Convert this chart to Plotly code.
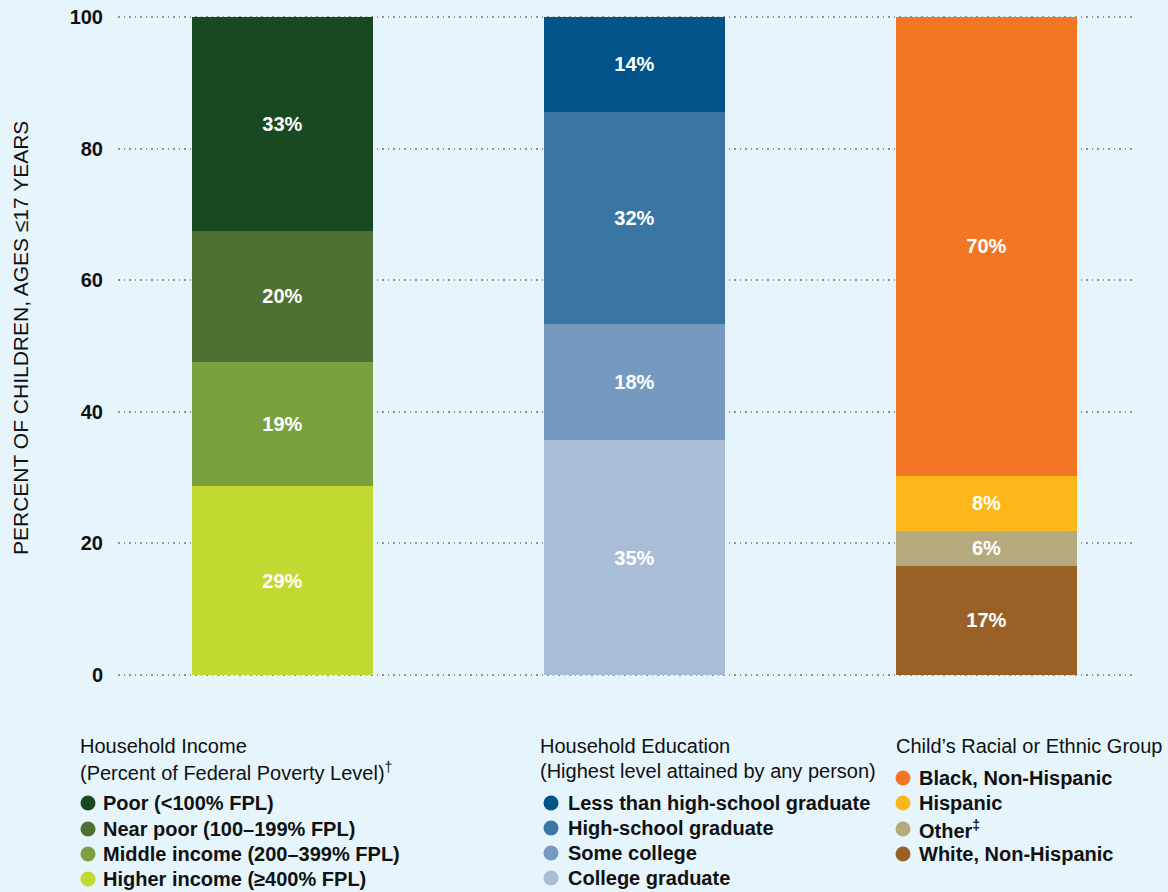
import plotly.graph_objects as go

# ---------------- data ----------------
groups = ["Household Income", "Household Education", "Child's Racial or Ethnic Group"]

income_labels = ["Higher income (≥400% FPL)", "Middle income (200–399% FPL)",
                 "Near poor (100–199% FPL)", "Poor (<100% FPL)"]
income_values = [28.7, 18.9, 19.9, 32.5]
income_text = ["29%", "19%", "20%", "33%"]
income_colors = ["#C2D931", "#79A140", "#4E7133", "#184A22"]

edu_labels = ["College graduate", "Some college", "High-school graduate",
              "Less than high-school graduate"]
edu_values = [35.7, 17.6, 32.3, 14.4]
edu_text = ["35%", "18%", "32%", "14%"]
edu_colors = ["#A9BDD7", "#7599BF", "#3A76A4", "#02538A"]

race_labels = ["White, Non-Hispanic", "Other<sup>‡</sup>", "Hispanic", "Black, Non-Hispanic"]
race_values = [16.6, 5.3, 8.4, 69.7]
race_text = ["17%", "6%", "8%", "70%"]
race_colors = ["#9A6127", "#B5AA7E", "#FDB71A", "#F37624"]

y_ticks = [0, 20, 40, 60, 80, 100]
y_title = "PERCENT OF CHILDREN, AGES ≤17 YEARS"

legend_titles = [
    ["Household Income", "(Percent of Federal Poverty Level)<sup>†</sup>"],
    ["Household Education", "(Highest level attained by any person)"],
    ["Child’s Racial or Ethnic Group"],
]

FONT = "Liberation Sans, Arial, Helvetica, sans-serif"
BG = "#E6F4FC"

W, H = 1168, 892
PAD = 0.3
L, R, T, B = 118, 34, 15, 215
PW, PH = W - L - R, H - T - B
Y0 = 675  # pixel of y=0
SCALE = PH / (100 + 2 * PAD)

fig = go.Figure()

series = [
    (income_labels, income_values, income_text, income_colors),
    (edu_labels, edu_values, edu_text, edu_colors),
    (race_labels, race_values, race_text, race_colors),
]

for gi, (labs, vals, txts, cols) in enumerate(series):
    for lab, v, t, c in zip(labs, vals, txts, cols):
        fig.add_trace(go.Bar(
            x=[gi], y=[v], name=lab, text=[t],
            marker=dict(color=c, line=dict(width=0)),
            width=0.514,
            textposition="inside", insidetextanchor="middle", textangle=0,
            textfont=dict(color="white", size=20, family=FONT, weight="bold"),
            showlegend=False, hoverinfo="name+y",
        ))

fig.update_layout(
    width=W, height=H,
    barmode="stack",
    paper_bgcolor=BG, plot_bgcolor=BG,
    margin=dict(l=L, r=R, t=T, b=B),
    font=dict(family=FONT, color="#111111"),
    xaxis=dict(range=[-0.467, 2.419], showticklabels=False, showgrid=False,
               zeroline=False, showline=False, ticks="", automargin=False),
    yaxis=dict(range=[-PAD, 100 + PAD], tickvals=y_ticks, showgrid=True,
               gridcolor="#9C9189", griddash="1.5px,4px", gridwidth=1.5,
               zeroline=False, showline=False, automargin=False,
               ticks="outside", ticklen=10, tickcolor="rgba(0,0,0,0)",
               tickfont=dict(size=20, family=FONT, color="#111111", weight="bold")),
    uniformtext=dict(minsize=8, mode="show"),
)

def px_x(px):
    return (px - L) / PW

def px_y(py):
    return (H - B - py) / PH

annotations = []
shapes = []

# y-axis title
annotations.append(dict(
    text=y_title, xref="paper", yref="paper", x=px_x(20), y=px_y(338),
    xanchor="center", yanchor="middle", textangle=-90, showarrow=False,
    font=dict(size=21, family=FONT, color="#111111"),
))

# custom legends
legend_specs = [
    # title x, title line ys, circle x, text x, item ys, labels (top->bottom), colors
    (78, [746, 771], 88, 101, [803, 829, 854, 879],
     income_labels[::-1], income_colors[::-1]),
    (538, [746, 771], 551, 566, [803, 828, 853, 878],
     edu_labels[::-1], edu_colors[::-1]),
    (894, [746], 903, 917, [778, 803, 829, 854],
     race_labels[::-1], race_colors[::-1]),
]

for (tx, tys, cx, lx, iys, labs, cols), titles in zip(legend_specs, legend_titles):
    for ty, tt in zip(tys, titles):
        annotations.append(dict(
            text=tt, xref="paper", yref="paper", x=px_x(tx), y=px_y(ty),
            xanchor="left", yanchor="middle", showarrow=False,
            font=dict(size=20, family=FONT, color="#111111"),
        ))
    for iy, lab, col in zip(iys, labs, cols):
        shapes.append(dict(
            type="circle", xref="paper", yref="paper",
            xsizemode="pixel", ysizemode="pixel",
            xanchor=px_x(cx), yanchor=px_y(iy),
            x0=-7.5, x1=7.5, y0=-7.5, y1=7.5,
            fillcolor=col, line=dict(width=0),
        ))
        annotations.append(dict(
            text="<b>" + lab + "</b>", xref="paper", yref="paper",
            x=px_x(lx), y=px_y(iy),
            xanchor="left", yanchor="middle", showarrow=False,
            font=dict(size=20, family=FONT, color="#111111"),
        ))

fig.update_layout(annotations=annotations, shapes=shapes)

fig.write_html("out.html")
